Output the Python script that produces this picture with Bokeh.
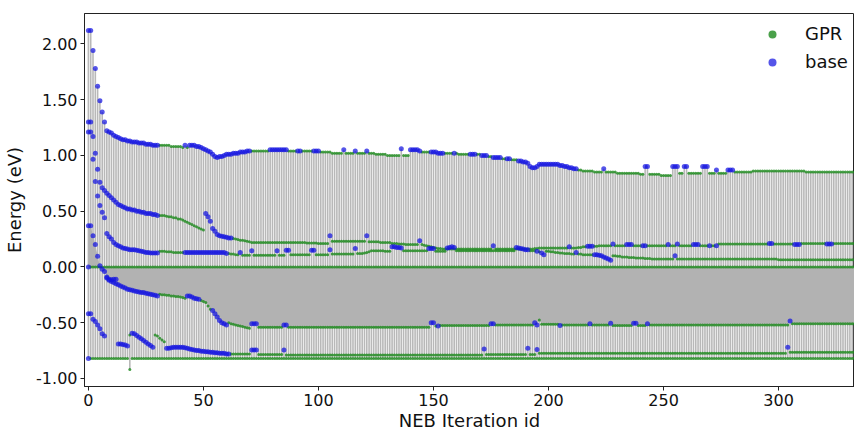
from bokeh.plotting import figure
from bokeh.models import ColumnDataSource, FixedTicker, PrintfTickFormatter
from bokeh.embed import file_html
from bokeh.resources import INLINE

N = 334
iterations = list(range(N))

# endpoint images (reactant / product)
R = [0.0] * N
P = [-0.82] * 18 + [-0.92] + [-0.82] * 315

# image A (highest / climbing)
A = [
2.12,2.12,1.94,1.78,1.62,1.49,1.39,1.30,1.22,1.21,
1.20,1.18,1.17,1.16,1.15,1.14,1.14,1.13,1.13,1.12,
1.12,1.12,1.11,1.11,1.11,1.10,1.10,1.10,1.09,1.09,
1.09,1.09,1.09,1.09,1.09,1.09,1.08,1.08,1.08,1.08,
1.08,1.07,1.09,1.07,1.09,1.09,1.09,1.08,1.08,1.07,
1.06,1.05,1.04,1.03,1.01,.99,.98,.99,.99,1.00,
1.01,1.01,1.01,1.02,1.02,1.02,1.03,1.03,1.03,1.04,
1.04,1.04,1.04,1.04,1.04,1.04,1.04,1.04,1.04,1.05,
1.05,1.05,1.05,1.05,1.05,1.05,1.05,1.04,1.04,1.04,
1.04,1.04,1.04,1.04,1.04,1.04,1.04,1.04,1.04,1.04,
1.04,1.03,1.03,1.03,1.03,1.03,1.02,1.02,1.02,1.02,
1.02,1.05,1.02,1.02,1.02,1.02,1.04,1.02,1.02,1.02,
1.02,1.04,1.02,1.02,1.02,1.01,1.01,1.01,1.01,1.01,
1.00,1.00,1.00,1.00,1.00,1.00,1.06,1.00,1.00,1.00,
1.05,1.05,1.05,1.05,1.04,1.03,1.03,1.03,1.03,1.03,
1.03,1.03,1.02,1.02,1.02,1.02,1.02,1.02,1.02,1.02,
1.02,1.01,1.01,1.01,1.01,1.01,1.01,1.01,1.01,1.01,
1.01,1.00,1.00,1.00,.99,.99,.98,.98,.98,.98,
.97,.97,.97,.97,.96,.96,.96,.95,.95,.94,
.94,.93,.90,.89,.89,.90,.92,.92,.92,.92,
.92,.92,.92,.92,.92,.91,.91,.90,.90,.89,
.89,.88,.88,.87,.87,.86,.86,.86,.86,.86,
.85,.85,.85,.85,.88,.85,.85,.85,.85,.85,
.84,.84,.84,.84,.84,.84,.84,.84,.84,.84,
.83,.83,.90,.90,.83,.83,.83,.83,.83,.82,
.82,.82,.82,.82,.90,.90,.90,.84,.84,.90,
.90,.84,.84,.84,.84,.84,.84,.90,.90,.90,
.84,.84,.84,.87,.84,.84,.84,.84,.87,.87,
.87,.85,.85,.85,.85,.85,.85,.85,.85,.86,
.86,.86,.86,.86,.86,.86,.86,.86,.86,.86,
.86,.86,.86,.86,.86,.86,.86,.86,.86,.86,
.86,.86,.85,.85,.85,.85,.85,.85,.85,.85,
.85,.85,.85,.85,.85,.85,.85,.85,.85,.85,
.85,.85,.85,.85]

B = [
1.30,1.30,1.17,1.02,.875,.76,.71,.685,.66,.64,
.62,.60,.58,.56,.55,.54,.53,.52,.52,.51,
.51,.50,.50,.49,.49,.48,.48,.48,.47,.47,
.46,.46,.46,.46,.455,.45,.45,.44,.44,.43,
.43,.42,.41,.40,.39,.38,.37,.36,.35,.34,
.33,.48,.45,.41,.345,.32,.29,.28,.275,.27,
.265,.26,.26,.255,.25,.245,.24,.24,.235,.23,
.225,.22,.22,.22,.22,.22,.22,.22,.22,.22,
.22,.22,.22,.22,.22,.22,.22,.22,.22,.22,
.22,.22,.22,.22,.22,.215,.215,.215,.215,.215,
.21,.21,.21,.21,.21,.28,.23,.23,.23,.23,
.23,.23,.23,.23,.23,.23,.23,.23,.23,.23,
.23,.28,.225,.225,.225,.225,.225,.22,.22,.22,
.22,.22,.21,.21,.21,.205,.205,.205,.20,.20,
.20,.20,.20,.20,.235,.20,.195,.19,.185,.18,
.175,.17,.165,.165,.16,.16,.16,.16,.16,.16,
.16,.16,.16,.16,.16,.16,.16,.16,.16,.16,
.16,.16,.16,.16,.16,.16,.19,.16,.16,.16,
.16,.16,.16,.16,.16,.16,.16,.16,.16,.16,
.16,.16,.16,.16,.165,.165,.17,.17,.17,.17,
.17,.17,.17,.17,.17,.17,.17,.17,.17,.18,
.17,.17,.17,.175,.175,.18,.18,.185,.185,.185,
.185,.185,.19,.19,.19,.19,.19,.19,.205,.19,
.19,.19,.19,.19,.20,.20,.20,.19,.19,.19,
.19,.19,.19,.19,.19,.19,.19,.19,.19,.19,
.19,.19,.20,.19,.19,.19,.205,.19,.19,.19,
.19,.19,.19,.20,.20,.20,.19,.19,.19,.19,
.19,.19,.19,.19,.205,.205,.205,.205,.205,.205,
.205,.205,.205,.205,.205,.205,.205,.205,.205,.205,
.205,.205,.205,.205,.205,.205,.21,.21,.205,.205,
.205,.205,.205,.205,.205,.205,.205,.20,.20,.20,
.21,.21,.21,.21,.21,.21,.21,.21,.21,.21,
.21,.205,.205,.205,.21,.21,.21,.21,.21,.21,
.21,.21,.21,.21]

C = [
1.21,1.21,.965,.765,.635,.55,.49,.44,.30,.27,
.25,.22,.20,.19,.18,.17,.165,.16,.155,.155,
.155,.15,.145,.14,.135,.13,.13,.125,.125,.125,
.125,.14,.14,.14,.135,.135,.135,.13,.13,.13,
.13,.13,.13,.13,.13,.13,.13,.13,.13,.13,
.13,.13,.13,.13,.13,.13,.13,.13,.13,.13,
.12,.12,.115,.115,.11,.11,.13,.105,.105,.105,
.105,.145,.105,.105,.105,.105,.105,.105,.105,.105,
.105,.105,.145,.105,.105,.105,.15,.15,.11,.11,
.11,.11,.11,.11,.11,.11,.11,.15,.15,.11,
.11,.11,.11,.11,.11,.155,.115,.115,.115,.115,
.115,.115,.115,.115,.115,.115,.165,.12,.12,.12,
.125,.13,.135,.145,.145,.145,.145,.145,.145,.14,
.14,.14,.18,.18,.175,.175,.17,.145,.145,.145,
.145,.145,.145,.145,.145,.145,.145,.145,.165,.165,
.165,.14,.14,.14,.14,.14,.17,.175,.18,.175,
.145,.145,.145,.145,.145,.145,.145,.145,.145,.145,
.145,.145,.145,.145,.145,.145,.145,.145,.145,.145,
.145,.145,.145,.145,.145,.145,.175,.17,.165,.16,
.155,.155,.145,.145,.145,.14,.135,.125,.11,.14,
.14,.135,.135,.13,.13,.125,.125,.12,.12,.12,
.115,.115,.13,.115,.115,.11,.11,.11,.11,.11,
.11,.11,.105,.10,.09,.08,.07,.06,.10,.10,
.095,.095,.09,.09,.09,.085,.085,.085,.08,.08,
.08,.08,.075,.075,.075,.072,.072,.072,.072,.072,
.072,.072,.072,.072,.072,.10,.07,.07,.07,.07,
.07,.07,.07,.07,.07,.07,.07,.07,.07,.07,
.07,.07,.07,.07,.07,.07,.07,.07,.07,.07,
.07,.07,.07,.07,.07,.07,.07,.07,.07,.07,
.07,.07,.07,.07,.07,.07,.07,.07,.07,.07,
.065,.065,.065,.065,.065,.065,.065,.065,.065,.065,
.065,.065,.065,.065,.065,.065,.065,.065,.065,.065,
.065,.065,.065,.065,.065,.065,.065,.065,.065,.065,
.065,.065,.065,.065]

D = [
.37,.37,.28,.20,.095,.01,-.02,-.04,-.09,-.12,
-.13,-.14,-.15,-.16,-.17,-.18,-.19,-.20,-.205,-.21,
-.215,-.22,-.225,-.23,-.23,-.235,-.24,-.245,-.25,-.255,
-.26,-.245,-.25,-.25,-.255,-.255,-.26,-.26,-.265,-.265,
-.27,-.275,-.28,-.26,-.26,-.27,-.28,-.285,-.29,-.30,
-.31,-.32,-.35,-.38,-.39,-.42,-.45,-.48,-.50,-.51,
-.52,-.50,-.51,-.515,-.52,-.525,-.53,-.535,-.54,-.545,
-.55,-.51,-.51,-.51,-.54,-.54,-.54,-.54,-.54,-.54,
-.54,-.54,-.54,-.54,-.54,-.52,-.52,-.54,-.54,-.54,
-.54,-.54,-.54,-.54,-.54,-.54,-.54,-.54,-.54,-.54,
-.54,-.54,-.54,-.54,-.54,-.54,-.54,-.54,-.54,-.54,
-.54,-.54,-.54,-.54,-.54,-.54,-.54,-.54,-.54,-.54,
-.54,-.54,-.54,-.54,-.54,-.54,-.54,-.54,-.54,-.54,
-.54,-.54,-.54,-.54,-.54,-.54,-.54,-.54,-.54,-.54,
-.54,-.54,-.54,-.54,-.54,-.54,-.54,-.54,-.54,-.50,
-.50,-.53,-.53,-.525,-.525,-.525,-.525,-.525,-.525,-.525,
-.525,-.525,-.525,-.525,-.525,-.525,-.525,-.525,-.525,-.525,
-.525,-.525,-.525,-.525,-.525,-.51,-.51,-.52,-.52,-.52,
-.52,-.52,-.52,-.52,-.52,-.52,-.52,-.52,-.52,-.52,
-.52,-.52,-.52,-.52,-.50,-.52,-.475,-.515,-.515,-.515,
-.515,-.515,-.515,-.515,-.515,-.525,-.52,-.52,-.52,-.52,
-.52,-.52,-.52,-.52,-.52,-.52,-.52,-.52,-.51,-.52,
-.52,-.52,-.52,-.52,-.52,-.52,-.52,-.505,-.525,-.525,
-.525,-.525,-.525,-.525,-.525,-.525,-.525,-.505,-.505,-.525,
-.525,-.525,-.525,-.51,-.52,-.52,-.52,-.52,-.52,-.52,
-.52,-.52,-.52,-.52,-.52,-.52,-.52,-.52,-.52,-.52,
-.52,-.52,-.52,-.52,-.52,-.52,-.52,-.52,-.52,-.52,
-.52,-.52,-.52,-.52,-.52,-.52,-.52,-.52,-.52,-.52,
-.52,-.52,-.52,-.52,-.52,-.52,-.52,-.52,-.52,-.52,
-.52,-.52,-.52,-.52,-.52,-.52,-.52,-.52,-.52,-.52,
-.52,-.52,-.52,-.52,-.52,-.485,-.51,-.51,-.51,-.51,
-.51,-.51,-.51,-.51,-.51,-.51,-.51,-.51,-.51,-.51,
-.51,-.51,-.51,-.51,-.51,-.51,-.51,-.51,-.51,-.51,
-.51,-.51,-.51,-.51]

E = [
-.42,-.42,-.47,-.49,-.52,-.555,-.60,-.62,-.10,-.11,
-.115,-.11,-.11,-.69,-.69,-.695,-.70,-.71,-.61,-.595,
-.60,-.615,-.63,-.645,-.66,-.675,-.69,-.705,-.72,-.61,
-.62,-.64,-.655,-.67,-.73,-.73,-.725,-.72,-.72,-.72,
-.72,-.72,-.725,-.73,-.735,-.74,-.745,-.75,-.75,-.755,
-.755,-.76,-.76,-.765,-.765,-.77,-.77,-.775,-.775,-.775,
-.78,-.78,-.78,-.78,-.78,-.78,-.78,-.78,-.78,-.78,
-.78,-.745,-.745,-.745,-.785,-.785,-.785,-.785,-.785,-.785,
-.785,-.785,-.785,-.785,-.785,-.745,-.79,-.79,-.79,-.79,
-.79,-.79,-.79,-.79,-.79,-.79,-.79,-.79,-.79,-.79,
-.79,-.79,-.79,-.79,-.79,-.79,-.79,-.79,-.79,-.79,
-.79,-.79,-.79,-.79,-.79,-.79,-.79,-.79,-.79,-.79,
-.79,-.79,-.79,-.79,-.79,-.79,-.79,-.79,-.79,-.79,
-.79,-.79,-.79,-.79,-.79,-.79,-.79,-.79,-.79,-.79,
-.79,-.79,-.79,-.79,-.79,-.79,-.79,-.79,-.79,-.79,
-.79,-.79,-.79,-.79,-.79,-.79,-.79,-.79,-.79,-.79,
-.79,-.79,-.79,-.79,-.79,-.79,-.79,-.79,-.79,-.79,
-.79,-.79,-.735,-.785,-.785,-.785,-.785,-.785,-.785,-.785,
-.785,-.785,-.785,-.785,-.785,-.785,-.785,-.785,-.785,-.785,
-.785,-.73,-.785,-.785,-.785,-.74,-.775,-.775,-.775,-.775,
-.775,-.775,-.775,-.775,-.775,-.775,-.775,-.775,-.775,-.775,
-.775,-.775,-.775,-.775,-.775,-.775,-.775,-.775,-.775,-.775,
-.775,-.775,-.775,-.775,-.775,-.775,-.775,-.775,-.775,-.775,
-.775,-.775,-.775,-.775,-.775,-.775,-.775,-.775,-.775,-.775,
-.775,-.775,-.775,-.775,-.775,-.775,-.775,-.775,-.775,-.775,
-.775,-.775,-.775,-.775,-.775,-.775,-.775,-.775,-.775,-.775,
-.775,-.775,-.775,-.775,-.775,-.775,-.775,-.775,-.775,-.775,
-.775,-.775,-.775,-.775,-.775,-.775,-.775,-.775,-.775,-.775,
-.775,-.775,-.775,-.775,-.775,-.775,-.775,-.775,-.775,-.775,
-.775,-.775,-.775,-.775,-.775,-.775,-.775,-.775,-.775,-.775,
-.775,-.775,-.775,-.775,-.72,-.765,-.765,-.765,-.765,-.765,
-.765,-.765,-.765,-.765,-.765,-.765,-.765,-.765,-.765,-.765,
-.765,-.765,-.765,-.765,-.765,-.765,-.765,-.765,-.765,-.765,
-.765,-.765,-.765,-.765]

# which evaluation each point came from: runs of ("b" = base, "g" = GPR)
R_kind = [("b", 1), ("g", 333)]
P_kind = [("b", 1), ("g", 333)]
A_kind = [("b",31),("g",11),("b",1),("g",1),("b",27),("g",8),("b",8),("g",4),("b",2),("g",5),
          ("b",3),("g",10),("b",1),("g",4),("b",1),("g",4),("b",1),("g",14),("b",1),("g",3),
          ("b",5),("g",4),("b",6),("g",4),("b",1),("g",6),("b",3),("g",2),("b",3),("g",2),
          ("b",4),("g",2),("b",2),("g",3),("b",26),("g",11),("b",1),("g",17),("b",2),("g",10),
          ("b",3),("g",2),("b",2),("g",6),("b",3),("g",3),("b",1),("g",4),("b",3),("g",53)]
B_kind = [("b",31),("g",20),("b",12),("g",42),("b",1),("g",15),("b",1),("g",22),("b",1),("g",31),
          ("b",1),("g",32),("b",1),("g",7),("b",3),("g",8),("b",1),("g",5),("b",3),("g",4),
          ("b",2),("g",9),("b",1),("g",3),("b",1),("g",6),("b",3),("g",4),("b",1),("g",2),
          ("b",1),("g",22),("b",2),("g",9),("b",3),("g",11),("b",3),("g",10)]
C_kind = [("b",31),("g",11),("b",19),("g",5),("b",1),("g",4),("b",1),("g",10),("b",1),("g",3),
          ("b",2),("g",9),("b",2),("g",6),("b",1),("g",10),("b",1),("g",15),("b",5),("g",11),
          ("b",3),("g",5),("b",4),("g",26),("b",6),("g",3),("b",1),("g",1),("b",2),("g",13),
          ("b",1),("g",7),("b",8),("g",27),("b",1),("g",78)]
D_kind = [("b",31),("g",12),("b",6),("g",5),("b",7),("g",10),("b",3),("g",11),("b",2),("g",62),
          ("b",2),("g",1),("b",1),("g",22),("b",2),("g",17),("b",2),("g",9),("b",1),("g",12),
          ("b",1),("g",8),("b",1),("g",9),("b",2),("g",4),("b",1),("g",61),("b",1),("g",28)]
E_kind = [("b",18),("g",1),("b",10),("g",5),("b",28),("g",9),("b",3),("g",11),("b",1),("g",86),
          ("b",1),("g",18),("b",1),("g",3),("b",1),("g",108),("b",1),("g",29)]

x_ticks = [0, 50, 100, 150, 200, 250, 300]
y_ticks = [-1.0, -0.5, 0.0, 0.5, 1.0, 1.5, 2.0]


def expand(runs):
    return "".join(k * n for k, n in runs)


series = [(R, R_kind), (A, A_kind), (B, B_kind), (C, C_kind),
          (D, D_kind), (E, E_kind), (P, P_kind)]
for vals, kind in series:
    assert len(vals) == N and len(expand(kind)) == N, (len(vals), len(expand(kind)))

gx, gy, bx, by = [], [], [], []
for vals, kind in series:
    for i, (v, k) in enumerate(zip(vals, expand(kind))):
        if k == "g":
            gx.append(i); gy.append(v)
        else:
            bx.append(i); by.append(v)

ymin = [min(s[0][i] for s in series) for i in iterations]
ymax = [max(s[0][i] for s in series) for i in iterations]
band_top = [max(0.0, D[i]) for i in iterations]
band_bot = [min(0.0, D[i]) for i in iterations]

FONT = "DejaVu Sans"

p = figure(width=854, height=433, x_range=(-1.7, 333), y_range=(-1.072, 2.272),
           output_backend="svg", toolbar_location=None,
           min_border_left=84, min_border_right=0, min_border_top=13, min_border_bottom=44)
p.background_fill_color = "white"
p.border_fill_color = "white"
p.outline_line_color = "#222222"
p.outline_line_width = 1
p.xgrid.visible = False
p.ygrid.visible = False

lines = ColumnDataSource(dict(x=iterations, y0=ymin, y1=ymax, top=band_top, bot=band_bot))
p.segment(x0="x", y0="y0", x1="x", y1="y1", source=lines,
          line_color="#b0b0b0", line_width=1.6, line_alpha=0.9)
p.varea(x="x", y1="bot", y2="top", source=lines, fill_color="#b2b2b2", fill_alpha=1.0)

p.scatter(gx, gy, size=3.0, fill_color="#1d8a1d", line_color=None, fill_alpha=0.8,
          legend_label="GPR")
p.scatter(bx, by, size=5.0, fill_color="#1414e0", line_color=None, fill_alpha=0.72,
          legend_label="base")

for ax in (p.xaxis[0], p.yaxis[0]):
    ax.axis_line_color = "#222222"
    ax.major_tick_line_color = "#222222"
    ax.major_tick_out = 4
    ax.major_tick_in = 0
    ax.minor_tick_line_color = None
    ax.major_label_text_font = FONT
    ax.major_label_text_font_size = "16px"
    ax.major_label_text_color = "#111111"
    ax.axis_label_text_font = FONT
    ax.axis_label_text_font_size = "18px"
    ax.axis_label_text_font_style = "normal"
    ax.axis_label_text_color = "#111111"
    ax.major_label_standoff = 3

p.xaxis.ticker = FixedTicker(ticks=x_ticks)
p.yaxis.ticker = FixedTicker(ticks=y_ticks)
p.yaxis.formatter = PrintfTickFormatter(format="%.2f")
p.xaxis.axis_label = "NEB Iteration id"
p.yaxis.axis_label = "Energy (eV)"
p.xaxis.axis_label_standoff = 1
p.yaxis.axis_label_standoff = 8

lg = p.legend[0]
lg.location = (678, 314)
lg.border_line_color = None
lg.background_fill_alpha = 0
lg.label_text_font = FONT
lg.label_text_font_size = "18px"
lg.label_text_color = "#111111"
lg.glyph_width = 20
lg.glyph_height = 20
lg.label_height = 20
lg.label_standoff = 23
lg.spacing = 7
lg.padding = 0
lg.margin = 0

open("out.html", "w").write(file_html(p, INLINE))
